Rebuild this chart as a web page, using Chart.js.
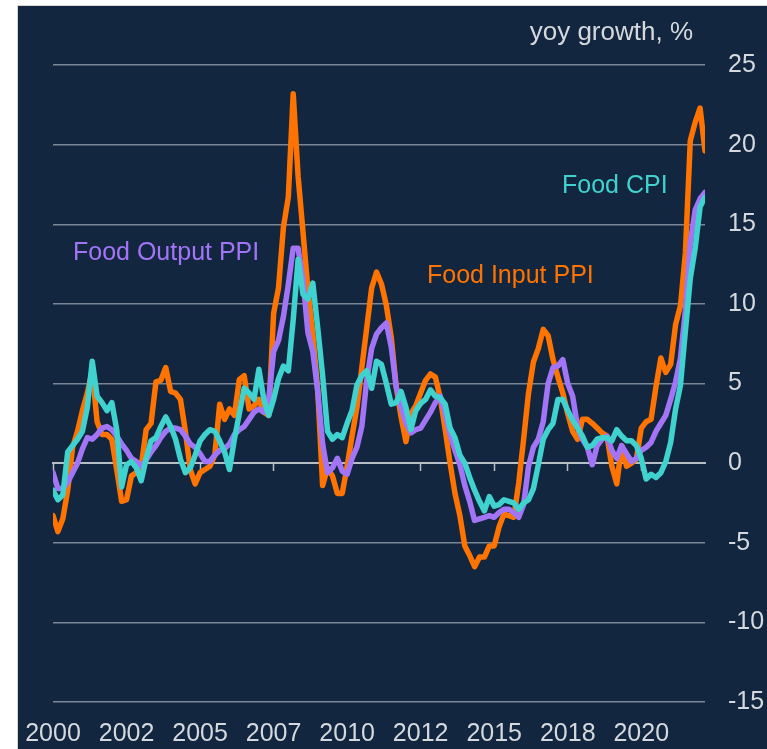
<!DOCTYPE html>
<html><head><meta charset="utf-8">
<script src="https://cdn.jsdelivr.net/npm/chart.js@4"></script>
<style>
html,body{margin:0;padding:0;background:#ffffff;}
#wrap{position:absolute;left:17px;top:5px;width:749px;height:743px;border-left:1px solid #d6d6d6;border-top:1px solid #d6d6d6;background:#13263f;}
#c{display:block;}
</style></head><body>
<div id="wrap"><canvas id="c" width="749" height="743"></canvas></div>
<script>
// x positions: months since start of series, 2-month steps
const months = Array.from({length: 134}, (_, i) => i * 2);
const xTickLabels = ['2000','2002','2005','2007','2010','2012','2015','2018','2020'];
const yTicks = [-15, -10, -5, 0, 5, 10, 15, 20, 25];

const foodInputPPI = [
 -3.3,-4.3,-3.5,-1.7,1.0,2.0,3.3,4.4,5.8,2.6,
 1.8,1.8,1.5,-0.4,-2.4,-2.3,-0.8,-0.6,-0.2,2.1,
 2.5,5.1,5.2,6.0,4.5,4.4,4.0,2.0,-0.4,-1.3,
 -0.6,-0.4,-0.2,0.5,3.7,2.75,3.4,3.0,5.25,5.5,
 3.4,3.6,4.0,3.2,3.0,9.4,11.0,14.8,16.7,23.2,
 18.0,14.5,10.9,8.1,4.6,-1.4,-0.3,-0.8,-1.9,-1.9,
 -0.2,1.7,3.5,6.0,8.5,11.0,12.0,11.25,9.9,7.9,
 4.8,2.9,1.35,3.1,3.6,4.4,5.2,5.6,5.4,4.1,
 2.1,0,-1.9,-3.3,-5.2,-5.8,-6.5,-5.9,-5.9,-5.2,
 -5.2,-4.0,-3.2,-3.3,-3.4,-1.25,1.5,4.4,6.35,7.2,
 8.4,8.0,6.5,5.4,4.4,3.1,2.0,1.5,2.75,2.75,
 2.5,2.2,1.9,1.7,-0.2,-1.3,1.1,-0.2,0,0.25,
 2.2,2.6,2.75,4.8,6.6,5.7,6.2,8.7,9.9,13.2,
 20.25,21.4,22.3,19.6
];
const foodOutputPPI = [
 -0.6,-1.6,-1.6,-1.2,-0.6,0,0.9,1.6,1.5,1.8,
 2.2,2.3,2.1,1.7,1.2,0.8,0.3,0.1,-0.2,0.2,
 0.7,1.1,1.6,2.0,2.2,2.2,2.1,1.7,1.2,1.0,
 0.6,0.1,0.1,0.5,0.8,0.9,1.2,1.8,2.1,2.3,
 2.75,3.2,3.4,3.2,4.0,7.0,7.7,9.2,11.2,13.5,
 13.5,11.5,8.2,7.0,4.5,1.2,-0.6,-0.3,0.3,-0.5,
 -0.7,0.3,1.0,2.3,5.2,7.2,8.1,8.5,8.8,7.3,
 4.8,3.5,2.5,1.9,2.1,2.2,2.7,3.2,3.8,4.2,
 3.1,1.8,0.8,-0.1,-1.4,-2.4,-3.6,-3.5,-3.4,-3.3,
 -3.4,-3.1,-2.9,-2.9,-3.1,-3.4,-2.6,-0.2,1.0,1.5,
 2.6,5.0,6.0,6.1,6.5,5.0,4.2,2.3,1.5,1.0,
 -0.1,1.1,1.5,1.7,0.8,0.3,1.1,0.6,0.1,0.3,
 0.8,1.0,1.3,2.0,2.5,3.0,4.0,5.1,6.6,9.6,
 13.8,15.9,16.6,17.0
];
const foodCPI = [
 -1.7,-2.3,-2.0,0.7,1.1,1.5,2.0,3.5,6.4,4.2,
 3.8,3.3,3.8,2.1,-1.5,-0.1,0.1,-0.3,-1.1,0.3,
 1.4,1.6,2.3,2.9,2.3,1.5,0.25,-0.6,-0.3,0.5,
 1.4,1.8,2.1,2.0,1.4,0.7,-0.4,1.5,3.1,4.7,
 4.4,4.0,5.9,4.0,3.0,4.0,5.3,6.1,5.8,9.0,
 12.8,10.6,10.3,11.3,8.5,5.5,2.0,1.5,1.8,1.6,
 2.5,3.3,4.9,5.5,5.8,4.7,6.4,6.2,5.0,3.7,
 3.8,4.5,3.5,2.1,3.3,3.75,4.0,4.6,4.2,4.1,
 3.7,2.2,1.6,0.5,0,-0.9,-1.7,-2.4,-3.0,-2.1,
 -2.7,-2.6,-2.3,-2.4,-2.5,-2.9,-2.5,-2.3,-1.6,-0.1,
 1.5,2.1,2.5,4.0,4.0,3.3,2.7,2.2,1.7,1.0,
 1.1,1.5,1.6,1.6,1.4,2.1,1.7,1.4,1.4,1.1,
 0.3,-1.0,-0.7,-0.9,-0.6,0.1,1.3,3.4,4.9,8.3,
 11.6,13.5,16.1,16.7
];

const COL_ORANGE = '#ff7300';
const COL_PURPLE = '#a274f6';
const COL_TEAL = '#3fd2cf';
const TXT = '#d5d9de';
const FONT = "'Liberation Sans', Arial, sans-serif";

function pts(vals){ return vals.map((v,i)=>({x: months[i], y: v})); }

const seriesLabels = {
  id: 'seriesLabels',
  afterDraw(chart){
    const ctx = chart.ctx;
    ctx.save();
    ctx.font = '25px ' + FONT;
    ctx.textBaseline = 'alphabetic';
    ctx.textAlign = 'left';
    ctx.fillStyle = COL_TEAL; ctx.fillText('Food CPI', 544, 187);
    ctx.fillStyle = COL_PURPLE; ctx.fillText('Food Output PPI', 55, 254);
    ctx.fillStyle = COL_ORANGE; ctx.fillText('Food Input PPI', 409, 277);
    ctx.font = '26px ' + FONT;
    ctx.textAlign = 'right';
    ctx.fillStyle = TXT; ctx.fillText('yoy growth, %', 675, 34);
    ctx.restore();
  }
};

const lineDs = (label, vals, color) => ({
  label, data: pts(vals), borderColor: color, backgroundColor: color,
  borderWidth: 5.5, pointRadius: 0, tension: 0, fill: false,
  borderJoinStyle: 'round', borderCapStyle: 'round'
});

new Chart(document.getElementById('c'), {
  type: 'line',
  data: {
    datasets: [
      lineDs('Food CPI', foodCPI, COL_TEAL),
      lineDs('Food Output PPI', foodOutputPPI, COL_PURPLE),
      lineDs('Food Input PPI', foodInputPPI, COL_ORANGE)
    ]
  },
  options: {
    responsive: false,
    animation: false,
    layout: { padding: { left: 35, top: 59, right: 0, bottom: 0 } },
    plugins: { legend: { display: false }, tooltip: { enabled: false }, title: { display: false } },
    scales: {
      x: {
        type: 'linear', position: 'bottom', min: 0, max: 266,
        grid: { display: false }, border: { display: false },
        ticks: {
          stepSize: 30, includeBounds: false, autoSkip: false, maxRotation: 0,
          color: TXT, font: { size: 25, family: FONT }, padding: 9,
          callback: (v) => xTickLabels[Math.round(v / 30)] ?? ''
        },
        afterFit: (s) => { s.height = 47; s.paddingLeft = 0; s.paddingRight = 0; }
      },
      x2: {
        type: 'linear', position: { y: 0 }, min: 0, max: 266,
        grid: { display: true, drawOnChartArea: false, drawTicks: true, tickLength: 7, tickColor: '#b8bec6', tickWidth: 1.5 },
        border: { display: true, color: '#b8bec6', width: 2 },
        ticks: { display: false, stepSize: 30, includeBounds: false, autoSkip: false },
        afterFit: (s) => { s.height = 0; s.paddingLeft = 0; s.paddingRight = 0; }
      },
      y: {
        type: 'linear', position: 'right', min: -15, max: 25,
        grid: { color: '#7b8696', lineWidth: 1.5, drawTicks: false },
        border: { display: false },
        afterBuildTicks: (s) => { s.ticks = yTicks.map(v => ({ value: v })); },
        ticks: { color: TXT, font: { size: 25, family: FONT }, padding: 23 },
        afterFit: (s) => { s.width = 62; }
      }
    }
  },
  plugins: [seriesLabels]
});
</script>
</body></html>
